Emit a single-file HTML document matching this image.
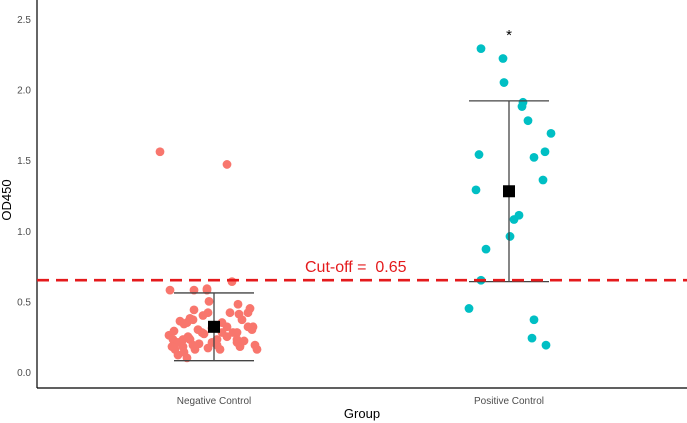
<!DOCTYPE html>
<html><head><meta charset="utf-8"><style>
body{margin:0;background:#fff;}
svg{display:block;font-family:"Liberation Sans",Arial,sans-serif;}
</style></head><body>
<svg id="chart" width="687" height="423" viewBox="0 0 687 423"></svg>
<script>
const categories=["Negative Control","Positive Control"];
const yTicks=[0,0.5,1.0,1.5,2.0,2.5];
const yTickLabels=["0.0","0.5","1.0","1.5","2.0","2.5"];
const cutoff=0.65;
const negValues=[1.56,1.47,0.64,0.58,0.58,0.58,0.59,0.50,0.48,0.42,0.41,0.42,0.45,0.44,0.42,0.40,0.38,0.36,0.35,0.37,0.35,0.32,0.28,0.28,0.32,0.30,0.28,0.32,0.25,0.24,0.23,0.21,0.23,0.23,0.19,0.18,0.16,0.18,0.16,0.21,0.23,0.19,0.16,0.23,0.21,0.18,0.19,0.16,0.10,0.25,0.28,0.30,0.34,0.27,0.20,0.14,0.22,0.31,0.26,0.17,0.37,0.12,0.29];
const negJitter=[-54,13,18,-44,-20,-7,-7,-5,24,16,25,34,36,-20,-6,-11,-24,-34,-27,-21,8,13,19,23,34,38,-12,39,-26,-25,-41,-36,-31,-24,-21,-42,-39,-31,-19,-2,3,3,6,23,23,26,41,43,-27,13,8,-16,-30,-10,-15,-30,30,-2,-45,-6,28,-36,-40];
const posValues=[2.29,2.22,2.05,1.91,1.88,1.78,1.69,1.56,1.52,1.54,1.36,1.29,1.11,1.08,0.96,0.87,0.65,0.45,0.37,0.24,0.19];
const posJitter=[-28,-6,-5,14,13,19,42,36,25,-30,34,-33,10,5,1,-23,-28,-40,25,23,37];
const groupMeans=[0.32,1.28];
const groupLow=[0.08,0.64];
const groupHigh=[0.56,1.92];

const svg=document.getElementById('chart');
const NS='http://www.w3.org/2000/svg';
const y0=372, pxPerUnit=141.2;
const yScale=v=>y0-v*pxPerUnit;
const xCenters=[214,509];
const xScale=i=>xCenters[i];
function mk(tag,attrs,parent){const e=document.createElementNS(NS,tag);for(const k in attrs)e.setAttribute(k,attrs[k]);(parent||svg).appendChild(e);return e;}

let ax=mk('line',{x1:37,y1:0,x2:37,y2:388,stroke:'#000','stroke-width':1.2});


let bx=mk('line',{x1:37,y1:388,x2:687,y2:388,stroke:'#000','stroke-width':1.2});


yTicks.forEach((t,i)=>{
  const tx=mk('text',{x:31,y:yScale(t)+4,'text-anchor':'end','font-size':10,fill:'#4d4d4d'});
  tx.textContent=yTickLabels[i];
  
  
});
categories.forEach((c,i)=>{
  const tx=mk('text',{x:xScale(i),y:404,'text-anchor':'middle','font-size':10,fill:'#4d4d4d'});
  tx.textContent=c;
  
  
});
let xt=mk('text',{x:362,y:418,'text-anchor':'middle','font-size':13,fill:'#000'});
xt.textContent='Group';


let yt=mk('text',{x:0,y:0,'text-anchor':'middle','font-size':13,fill:'#000',transform:'translate(11,200) rotate(-90)'});
yt.textContent='OD450';



function drawPts(vals,jit,gi,color,name){
  vals.forEach((v,k)=>{
    const c=mk('circle',{cx:xScale(gi)+jit[k],cy:yScale(v),r:4.4,fill:color});
    
    
  });
}
drawPts(negValues,negJitter,0,'#f8766d','negative-point');
drawPts(posValues,posJitter,1,'#00bfc4','positive-point');

groupMeans.forEach((m,i)=>{
  const x=xScale(i);
  const g=mk('g',{stroke:'#444','stroke-width':1.3});
  
  
  mk('line',{x1:x,y1:yScale(groupLow[i]),x2:x,y2:yScale(groupHigh[i])},g);
  mk('line',{x1:x-40,y1:yScale(groupLow[i]),x2:x+40,y2:yScale(groupLow[i])},g);
  mk('line',{x1:x-40,y1:yScale(groupHigh[i]),x2:x+40,y2:yScale(groupHigh[i])},g);
  const r=mk('rect',{x:x-6,y:yScale(m)-6,width:12,height:12,fill:'#000'});
  
  
});

let cl=mk('line',{x1:37,y1:yScale(cutoff),x2:687,y2:yScale(cutoff),stroke:'#e41a1c','stroke-width':2.6,'stroke-dasharray':'12,7'});


let ct=mk('text',{x:305,y:yScale(cutoff)-8,'font-size':16,fill:'#e41a1c'});
ct.textContent='Cut-off = \u00a0'+cutoff.toFixed(2);



let st=mk('text',{x:xScale(1),y:40,'text-anchor':'middle','font-size':15,fill:'#000'});
st.textContent='*';


</script>
</body></html>
